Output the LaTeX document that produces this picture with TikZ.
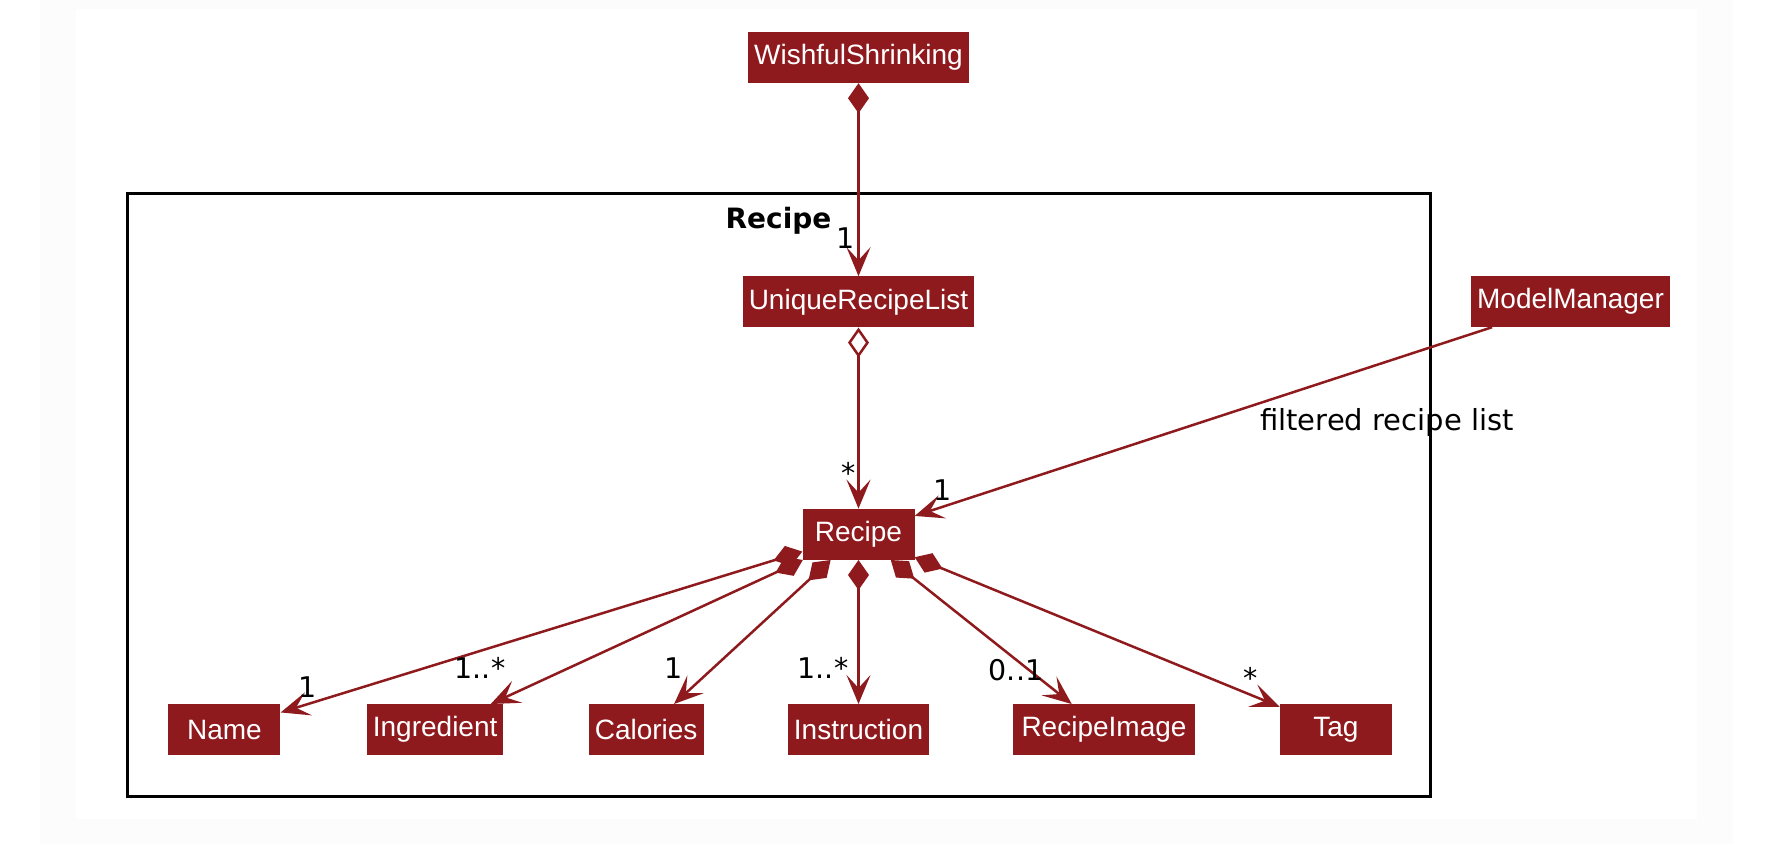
\documentclass[tikz,border=0pt]{standalone}
\usepackage{fontspec}
\setmainfont{DejaVu Sans}
\newfontfamily\classfont{Liberation Sans}
\usepackage{tikz}
\usetikzlibrary{positioning,arrows.meta}
\definecolor{umlred}{HTML}{8F1A1E}
\definecolor{pagegray}{HTML}{FCFCFC}
\tikzset{>={Stealth[length=29pt,width=24pt,inset=13pt]}}
\tikzset{
  umlclass/.style={fill=umlred, text=white,
    font=\classfont\fontsize{28}{32}\selectfont,
    minimum width=112pt, minimum height=51pt, inner xsep=6pt, inner ysep=0pt},
  mult/.style={font=\fontsize{28.5}{32}\selectfont, inner sep=0pt},
  pkgtitle/.style={font=\bfseries\fontsize{28}{32}\selectfont, inner sep=0pt},
  link/.style={draw=umlred, line width=2.5pt},
  compo/.style={link, {Diamond[length=30pt,width=21pt]}->},
  aggr/.style={link, {Diamond[length=30pt,width=21pt,fill=white]}->},
  assoc/.style={link, ->},
  pkgframe/.style={draw=black, line width=3pt}
}

\begin{document}
\begin{tikzpicture}[x=1pt, y=-1pt]

  % Page
  \useasboundingbox (0,0) rectangle (1780,844);
  \fill[pagegray] (40,0) rectangle (1733,844);
  \fill[white] (76,9) rectangle (1697,819);

  % Package
  \draw[pkgframe] (127,193) rectangle (1430,796);
  \node[pkgtitle, anchor=base] (pkgname) at (778.5,228) {Recipe};

  % Nodes
  \node[umlclass] (wish) at (858.5,57.5) {WishfulShrinking};
  \node[umlclass, below=193pt of wish]   (urlist)  {UniqueRecipeList};
  \node[umlclass, below=181pt of urlist] (recipe)  {Recipe};
  \node[umlclass] (manager) at (1570.5,301.5) {ModelManager};

  \node[umlclass, below=144pt of recipe]     (instruction) {Instruction};
  \node[umlclass, left=84pt of instruction]  (calories)    {Calories};
  \node[umlclass, left=85pt of calories]     (ingredient)  {Ingredient};
  \node[umlclass, left=86pt of ingredient]   (name)        {Name};
  \node[umlclass, right=84pt of instruction, minimum width=181pt] (image) {RecipeImage};
  \node[umlclass, right=85pt of image]       (tag)         {Tag};

  % Edges
  \draw[compo] (wish) -- (urlist);
  \draw[aggr] (urlist) -- (recipe);
  \draw[assoc] (manager) -- (recipe);
  \draw[compo] (recipe) -- (name);
  \draw[compo] (recipe) -- (ingredient);
  \draw[compo] (recipe) -- (calories);
  \draw[compo] (recipe) -- (instruction);
  \draw[compo] (recipe) -- (image);
  \draw[compo] (recipe) -- (tag);

  % Labels
  \node[mult, anchor=base] (mwish)  at (846,248) {1};
  \node[mult, anchor=base] (murl)   at (849,483.5) {*};
  \node[mult, anchor=base] (mman)   at (943,500) {1};
  \node[mult, anchor=base west, font=\fontsize{29}{32}\selectfont] (filtered) at (1260,430) {filtered recipe list};
  \node[mult, anchor=base] (mname)  at (308,697) {1};
  \node[mult, anchor=base] (mingr)  at (480,678) {1..*};
  \node[mult, anchor=base] (mcal)   at (674,678) {1};
  \node[mult, anchor=base] (minstr) at (823,678) {1..*};
  \node[mult, anchor=base] (mimg)   at (1016,680) {0..1};
  \node[mult, anchor=base] (mtag)   at (1251,688) {*};
\end{tikzpicture}
\end{document}
